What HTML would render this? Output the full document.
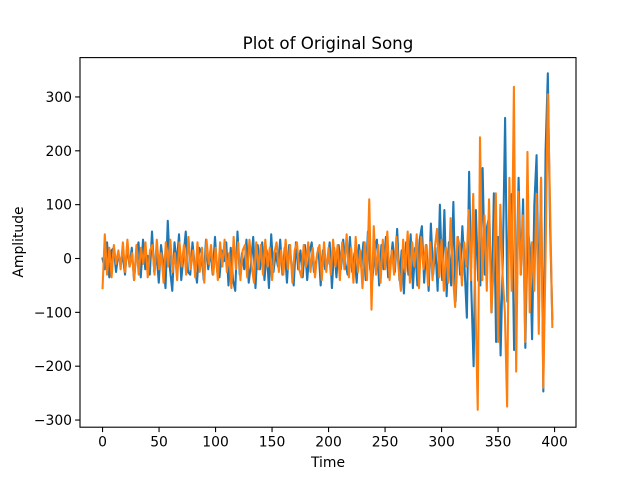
<!DOCTYPE html>
<html><head><meta charset="utf-8"><style>
html,body{margin:0;padding:0;background:#fff;}
svg text{font-family:"DejaVu Sans","Liberation Sans",sans-serif;fill:#000;}
</style></head><body>
<svg id="chart" width="640" height="480" viewBox="0 0 640 480">
<rect x="0" y="0" width="640" height="480" fill="#fff"/>
<text x="328" y="49" font-size="16.7" text-anchor="middle">Plot of Original Song</text>
<g id="plot"></g>
<text x="328" y="467" font-size="13.9" text-anchor="middle">Time</text>
<text x="23" y="242" font-size="13.9" text-anchor="middle" transform="rotate(-90 23 242)">Amplitude</text>
</svg>
<script>
const xTicks=[0,50,100,150,200,250,300,350,400];
const yTicks=[-300,-200,-100,0,100,200,300];
const step=2;
const seriesBlue=[0,-20,30,-35,15,20,-25,10,-10,5,
-30,25,-15,20,-40,10,30,-35,35,-20,
5,-30,50,-25,10,-45,25,-10,-55,70,
-20,-60,30,-10,45,-40,5,50,-25,-30,
30,-15,-45,20,10,-40,35,-20,15,-30,
40,-25,-35,15,-5,30,-50,20,-40,-60,
50,-30,10,-20,35,-45,-10,40,-55,25,
-20,30,-40,15,-55,45,-25,10,-15,35,
-30,20,-45,25,-10,-50,30,-20,15,-35,
25,-40,10,30,-25,-5,20,-50,15,-20,
-10,30,-55,20,-35,25,-20,35,-10,-30,
40,-25,10,-45,25,-15,30,-40,50,-20,
-40,15,35,-50,25,-20,40,-35,-10,30,
-25,55,-40,15,-65,30,-30,45,-55,20,
-50,35,60,-45,25,-60,65,-30,20,-60,
100,-40,90,-70,30,-50,105,-80,40,-30,
60,-20,-110,161,-60,-200,90,-40,-50,168,
-30,60,80,-100,121,-155,40,-180,0,261,
-80,100,120,-170,-50,150,-30,110,-166,60,
20,-150,100,192,-100,150,-247,200,344,60,-112];
const seriesOrange=[-55,45,-30,20,-35,25,-10,15,-20,30,
-25,35,-15,10,-40,25,-30,20,-10,30,
-35,15,25,-30,35,-20,10,-45,30,-15,
35,-25,10,-40,30,-15,25,-30,40,-20,
15,-35,30,-25,20,-45,35,-10,25,-30,
20,-40,30,-15,35,-25,10,-55,40,-20,
30,-40,15,25,-35,35,-15,-45,30,-20,
25,-30,35,-15,20,-40,10,30,-25,15,
-30,35,-20,25,-45,15,30,-20,-35,25,
-15,30,-25,20,-35,10,25,-40,30,-25,
20,-30,35,-15,25,-40,30,-20,45,-35,
20,-45,40,-25,15,-55,30,-40,110,-95,
60,-30,25,-45,35,-20,50,-40,15,-30,
40,-20,-60,35,-25,50,-45,30,-15,45,
-55,40,-20,25,-50,30,-40,20,55,-35,
35,-60,20,-45,75,-30,-90,40,25,-50,
30,-15,90,-40,120,-90,-281,225,-40,80,
-60,110,-100,-20,121,-155,100,-30,-100,-275,
150,-60,319,-210,124,-30,80,-155,198,-100,
30,-60,120,-140,150,-240,0,305,100,-127];

const L=80,R=576,T=57.6,B=427.2;
const xMin=-19.95,xMax=418.95,yMin=-313.3,yMax=373.1;
const sx=v=>L+(v-xMin)/(xMax-xMin)*(R-L);
const sy=v=>B-(v-yMin)/(yMax-yMin)*(B-T);
const NS='http://www.w3.org/2000/svg';
const g=document.getElementById('plot');
function mk(tag,attrs){const e=document.createElementNS(NS,tag);for(const k in attrs)e.setAttribute(k,attrs[k]);return e;}

function line(arr,color,name){
  const st=398/(arr.length-1);
  const d=arr.map((v,i)=>(i?'L':'M')+sx(i*st).toFixed(2)+' '+sy(v).toFixed(2)).join(' ');
  const p=mk('path',{d:d,fill:'none',stroke:color,'stroke-width':2.08,'stroke-linejoin':'round','stroke-linecap':'square'});
  
  
  g.appendChild(p);
}
line(seriesBlue,'#1f77b4','series-blue');
line(seriesOrange,'#ff7f0e','series-orange');

const frame=mk('rect',{x:L,y:T,width:R-L,height:B-T,fill:'none',stroke:'#000','stroke-width':1.1});


g.appendChild(frame);

xTicks.forEach(t=>{
  const x=sx(t);
  const tk=mk('line',{x1:x,x2:x,y1:B,y2:B+4.9,stroke:'#000','stroke-width':1.1});
  
  
  g.appendChild(tk);
  const tx=mk('text',{x:x,y:B+19.5,'font-size':13.9,'text-anchor':'middle'});
  tx.textContent=t;
  
  
  g.appendChild(tx);
});
yTicks.forEach(t=>{
  const y=sy(t);
  const tk=mk('line',{x1:L-4.9,x2:L,y1:y,y2:y,stroke:'#000','stroke-width':1.1});
  
  
  g.appendChild(tk);
  const tx=mk('text',{x:L-8,y:y+5,'font-size':13.9,'text-anchor':'end'});
  tx.textContent=(t<0?'\u2212'+(-t):t);
  
  
  g.appendChild(tx);
});
</script>
</body></html>
